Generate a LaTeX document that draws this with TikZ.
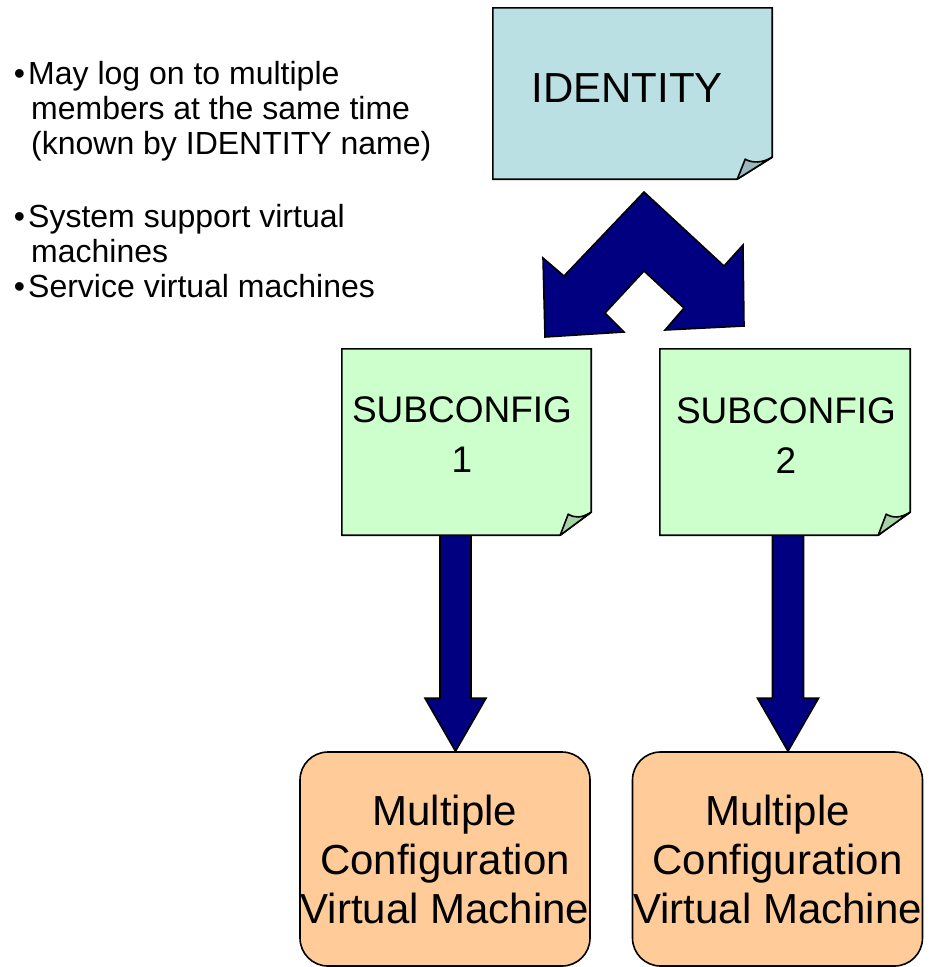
\documentclass[tikz,border=0pt]{standalone}
\usepackage{fontspec}
\setmainfont{Liberation Sans}
\usetikzlibrary{calc}
\usetikzlibrary{positioning}
\definecolor{idblue}{RGB}{187, 224, 227}
\definecolor{idflap}{RGB}{152, 186, 190}
\definecolor{subgreen}{RGB}{204, 255, 204}
\definecolor{subflap}{RGB}{166, 212, 166}
\definecolor{vmorange}{RGB}{255, 204, 153}
\definecolor{mnavy}{RGB}{0, 0, 128}
\tikzset{note/.style = {inner sep = 0, draw = none}}
\tikzset{notetext/.style = {inner sep = 0, align = center, anchor = base}}
\tikzset{vmbox/.style = {draw, line width = 1.6, fill = vmorange, rounded corners = 28,
    inner sep = 0, minimum width = 290, minimum height = 214, align = center,
    font = \fontsize{42}{49}\selectfont}}
\tikzset{bigarrow/.style = {draw, line width = 1.6, fill = mnavy, line join = miter}}
% folded-corner sheet: node, fill, flap fill, corner dx, corner dy
\newcommand{\foldednote}[5]{
  \draw [line width = 1.6, fill = #2] (#1.north west) -- (#1.north east)
    -- ($(#1.south east) + (0, -#5)$) -- ($(#1.south east) + (-#4, 0)$)
    -- (#1.south west) -- cycle;
  \draw [line width = 1.6, fill = #3, line join = round] ($(#1.south east) + (-#4, 0)$)
    -- ($(#1.south east) + (-#4 + 8, -#5 + 2)$)
    .. controls ($(#1.south east) + (-#4 + 15, -#5 + 6)$) and ($(#1.south east) + (-10, -#5 + 6)$)
    .. ($(#1.south east) + (0, -#5)$) -- cycle;
}

\begin{document}
\begin{tikzpicture}[x = 1pt, y = -1pt]
    \useasboundingbox [fill = white] (0, 0) rectangle (932, 967);

    % side notes
    \node [inner sep = 0, anchor = north west, align = left,
        font = \fontsize{32}{35}\selectfont] (notes) at (28, 61)
        {\llap{\textbullet\hspace{3pt}}May log on to multiple\\
         \hspace{3pt}members at the same time\\
         \hspace{3pt}(known by IDENTITY name)\\[38pt]
         \llap{\textbullet\hspace{3pt}}System support virtual\\
         \hspace{3pt}machines\\
         \llap{\textbullet\hspace{3pt}}Service virtual machines};

    % sheets
    \node [note, minimum width = 279, minimum height = 171] (identity) at (632.5, 93.5) {};
    \node [note, minimum width = 249, minimum height = 186] (sub1) at (466.5, 442) {};
    \node [note, minimum width = 250, minimum height = 186] (sub2) at (785, 442) {};

    % machines
    \node [vmbox] (vm1) at (445, 859) {Multiple\\Configuration\\Virtual Machine};
    \node [vmbox] (vm2) at (777.5, 859) {Multiple\\Configuration\\Virtual Machine};

    % down arrows
    \coordinate (a1) at (455.5, 535);
    \coordinate (a2) at (788, 535);
    \coordinate (t1) at (a1 |- vm1.north);
    \coordinate (t2) at (a2 |- vm2.north);
    \foreach \a/\t in {a1/t1, a2/t2}
      \draw [bigarrow] ($(\a) + (-15.5, 0)$) -- ($(\t) + (-15.5, -53)$)
        -- ($(\t) + (-30.5, -53)$) -- (\t) -- ($(\t) + (30.5, -53)$)
        -- ($(\t) + (15.5, -53)$) -- ($(\a) + (15.5, 0)$) -- cycle;

    % split arrow
    \draw [bigarrow] (644, 192) -- (724, 266) -- (743, 245) -- (744, 326)
      -- (665, 330) -- (684, 308) -- (644, 271) -- (605, 313) -- (624, 332)
      -- (545, 337) -- (543, 258) -- (564, 276) -- cycle;

    \foldednote{identity}{idblue}{idflap}{35}{22}
    \foldednote{sub1}{subgreen}{subflap}{31}{23}
    \foldednote{sub2}{subgreen}{subflap}{32}{23}

    \node [notetext, font = \fontsize{42}{46}\selectfont] (idlabel) at (627, 102) {IDENTITY};
    \node [notetext, font = \fontsize{37}{50}\selectfont] (sub1label) at (462, 472) {SUBCONFIG\\1};
    \node [notetext, font = \fontsize{37}{50}\selectfont] (sub2label) at (786, 473) {SUBCONFIG\\2};
  \end{tikzpicture}
\end{document}
